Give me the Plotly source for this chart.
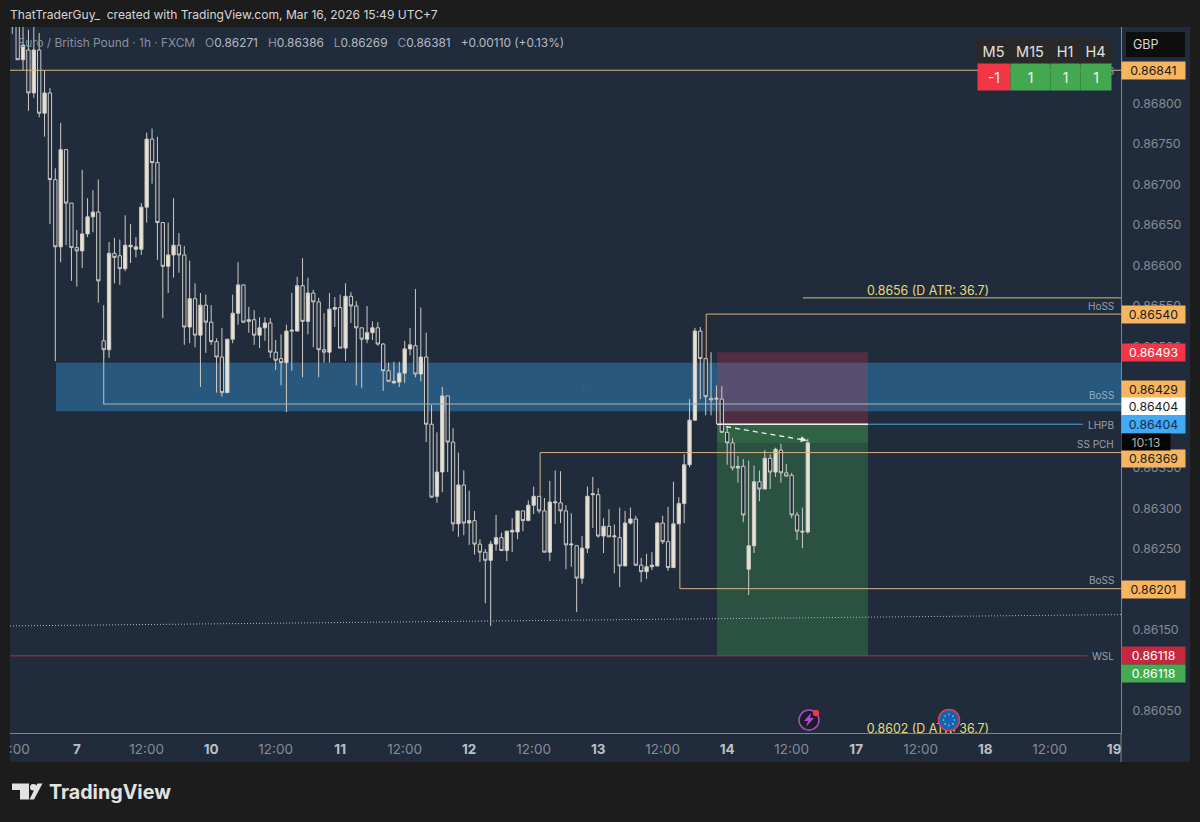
import math
import plotly.graph_objects as go

# Hourly OHLC, in 1e-5 price points
OPEN_PTS = [86909,86903,86854,86866,86813,86866,86788,86813,86706,86623,
86743,86677,86622,86618,86639,86660,86666,86507,86496,86615,
86612,86596,86623,86620,86620,86672,86756,86727,86653,86599,
86613,86625,86613,86524,86559,86514,86551,86530,86506,86487,
86443,86509,86541,86576,86531,86533,86514,86523,86529,86493,
86485,86480,86519,86519,86575,86531,86566,86555,86496,86493,
86546,86548,86498,86562,86550,86523,86509,86517,86523,86503,
86470,86455,86456,86467,86497,86501,86466,86487,86404,86315,
86345,86439,86382,86281,86329,86282,86285,86256,86246,86236,
86256,86264,86248,86271,86271,86297,86285,86304,86315,86297,
86246,86307,86307,86297,86255,86254,86214,86251,86317,86317,
86266,86278,86265,86264,86229,86282,86287,86230,86222,86228,
86229,86282,86259,86227,86281,86306,86354,86409,86519,86485,
86436,86435,86435,86394,86381,86350,86352,86225,86254,86333,
86324,86362,86345,86372,86344,86341,86292,86272,86271]
HIGH_PTS = [86922,86915,86915,86891,86903,86887,86841,86819,86720,86776,
86743,86677,86644,86718,86683,86693,86706,86551,86629,86634,
86632,86662,86651,86635,86677,86764,86769,86759,86653,86653,
86683,86640,86624,86606,86578,86566,86564,86551,86510,86523,
86509,86564,86604,86576,86549,86545,86536,86536,86535,86508,
86515,86527,86566,86586,86609,86585,86570,86560,86541,86566,
86561,86564,86578,86567,86556,86523,86550,86531,86530,86504,
86480,86481,86481,86507,86523,86571,86548,86517,86428,86394,
86450,86439,86399,86369,86347,86322,86297,86262,86250,86260,
86292,86270,86272,86288,86297,86297,86310,86327,86315,86313,
86334,86347,86346,86304,86294,86254,86266,86327,86339,86325,
86288,86299,86280,86301,86297,86301,86291,86239,86244,86246,
86283,86291,86302,86333,86314,86367,86435,86523,86524,86485,
86493,86452,86451,86401,86387,86365,86361,86359,86353,86347,
86372,86367,86375,86380,86355,86344,86296,86301,86386]
LOW_PTS = [86886,86854,86841,86791,86807,86783,86759,86651,86482,86604,
86625,86581,86574,86597,86635,86641,86554,86486,86486,86578,
86576,86593,86603,86610,86613,86653,86701,86607,86535,86566,
86585,86591,86502,86504,86499,86450,86492,86502,86443,86438,
86443,86504,86527,86529,86517,86502,86498,86507,86486,86471,
86452,86419,86470,86519,86462,86515,86499,86462,86480,86480,
86524,86498,86482,86529,86452,86449,86504,86508,86501,86445,
86457,86454,86450,86455,86489,86462,86457,86382,86313,86307,
86320,86345,86272,86265,86267,86255,86243,86234,86183,86155,
86248,86248,86235,86246,86262,86272,86285,86293,86294,86246,
86235,86281,86282,86225,86228,86172,86207,86245,86276,86264,
86245,86265,86220,86203,86229,86280,86229,86209,86213,86224,
86229,86256,86223,86227,86281,86282,86351,86409,86435,86415,
86415,86404,86394,86354,86347,86332,86283,86193,86245,86309,
86324,86324,86339,86332,86340,86288,86261,86251,86269]
CLOSE_PTS = [86903,86854,86872,86813,86866,86788,86813,86706,86623,86743,
86677,86622,86618,86639,86660,86666,86581,86496,86615,86610,
86596,86625,86625,86623,86672,86756,86727,86653,86599,86613,
86625,86613,86524,86559,86514,86551,86530,86506,86487,86443,
86509,86541,86576,86530,86533,86514,86523,86529,86493,86483,
86480,86519,86520,86575,86531,86566,86555,86496,86493,86546,
86548,86498,86562,86550,86523,86509,86517,86523,86503,86470,
86457,86457,86467,86497,86502,86466,86487,86404,86314,86345,
86439,86382,86281,86329,86282,86285,86256,86246,86236,86256,
86264,86248,86272,86273,86297,86285,86304,86315,86297,86246,
86308,86308,86297,86255,86256,86214,86251,86315,86318,86266,
86278,86265,86266,86229,86282,86287,86230,86222,86228,86230,
86282,86259,86227,86281,86306,86354,86409,86519,86485,86438,
86434,86436,86394,86381,86350,86352,86292,86254,86333,86324,
86362,86345,86373,86344,86340,86292,86272,86271,86381]

# Ticks that a price tag hides completely in the reference are left out
PRICE_TICKS = [0.8605,0.8615,0.8625,0.863,0.8635,0.865,0.8655,0.866,0.8665,0.867,0.8675,0.868]
DATE_TICK_BARS = [1.3,12,25,37,49,61,73,85,97,109,121,133,145,157,169,181,193,205]
DATE_TICK_LABELS = [":00","7","12:00","10","12:00","11","12:00","12","12:00","13","12:00","14","12:00","17","12:00","18","12:00","19"]
DAY_LABELS = {"7","10","11","12","13","14","17","18","19"}

# Levels
LVL_TOP = 0.86841; LVL_HOSS = 0.86540; LVL_BOSS_UP = 0.86429; LVL_ENTRY = 0.86404
LVL_PCH = 0.86369; LVL_BOSS_LOW = 0.86201; LVL_STOP = 0.86493; LVL_TARGET = 0.86118
LVL_ATR_UP = 0.8656; LVL_ATR_DOWN = 0.8602; LVL_CLOSE = 0.86381
ZONE_TOP = 0.86480; ZONE_BOTTOM = 0.86420
DOTTED_Y = [0.86155, 0.86169]
XMIN, XMAX = -0.43, 206.27
YMIN, YMAX = 0.860228, 0.868944

BG = "#1c1c1c"; PANEL = "#202b3c"; AXIS = "#7f858d"; TAN = "#d8b585"; GREY = "#9aa1aa"
FONT = "Inter"

def xp(px): return (px - 10) / 1111
def yp(py): return (733 - py) / 706
def bar(px): return (px - 12.3) / 5.375

bars = list(range(len(OPEN_PTS)))
fig = go.Figure()
fig.add_trace(go.Candlestick(
    x=bars,
    open=[v / 1e5 for v in OPEN_PTS], high=[v / 1e5 for v in HIGH_PTS],
    low=[v / 1e5 for v in LOW_PTS], close=[v / 1e5 for v in CLOSE_PTS],
    increasing=dict(line=dict(color="#cfccc4", width=1), fillcolor="#e9e2d6"),
    decreasing=dict(line=dict(color="#cfccc4", width=1), fillcolor=PANEL),
    whiskerwidth=0, hoverinfo="skip", showlegend=False))

def seg(xs, ys, color, width=1, dash="solid"):
    fig.add_trace(go.Scatter(x=xs, y=ys, mode="lines", line=dict(color=color, width=width, dash=dash),
                             hoverinfo="skip", showlegend=False))

seg([XMIN, XMAX], [LVL_TOP, LVL_TOP], TAN)
seg([17, 17, XMAX], [0.86496, LVL_BOSS_UP, LVL_BOSS_UP], "#a5b5ba", 1.2)
seg([129.1, 129.1, XMAX], [0.86485, LVL_HOSS, LVL_HOSS], TAN)
seg([98.2, 98.2, XMAX], [0.86315, LVL_PCH, LVL_PCH], TAN)
seg([124.2, 124.2, XMAX], [0.86281, LVL_BOSS_LOW, LVL_BOSS_LOW], TAN)
seg([XMIN, 200], [LVL_TARGET, LVL_TARGET], "#a8324a")
seg([147.1, XMAX], [LVL_ATR_UP, LVL_ATR_UP], "#c9c46c")
seg([131.1, 199.2], [LVL_ENTRY, LVL_ENTRY], "#4aa3e0")
seg([131.1, 159.2], [LVL_ENTRY, LVL_ENTRY], "#f0f0f0", 1.5)
seg([XMIN, XMAX], DOTTED_Y, "#b4bac0", 1, "1px,2px")
seg([132.8, 147.8], [0.86401, 0.86384], "#e8f0ea", 1.3, "5px,4px")

fig.add_trace(go.Scatter(
    x=[bar(928), bar(928)], y=[LVL_ATR_UP + 0.00007, LVL_ATR_DOWN + 0.00007], mode="text",
    text=["0.8656 (D ATR: 36.7)", "0.8602 (D ATR: 36.7)"],
    textfont=dict(family=FONT, size=12.4, color="#e6dc78"), textposition="middle center",
    hoverinfo="skip", showlegend=False))

shapes = []
def rect(x0, x1, y0, y1, color, layer="below"):
    shapes.append(dict(type="rect", xref="paper", yref="paper", x0=xp(x0), x1=xp(x1), y0=yp(y1), y1=yp(y0),
                       fillcolor=color, line=dict(width=0), layer=layer))
def poly(points, color, layer="above"):
    d = "M" + " L".join(f"{xp(a):.5f},{yp(b):.5f}" for a, b in points) + " Z"
    shapes.append(dict(type="path", xref="paper", yref="paper", path=d, fillcolor=color, line=dict(width=0), layer=layer))
def circle(cx, cy, r, fill, stroke=None, sw=1.5):
    shapes.append(dict(type="circle", xref="paper", yref="paper", x0=xp(cx - r), x1=xp(cx + r), y0=yp(cy + r), y1=yp(cy - r),
                       fillcolor=fill, line=dict(color=stroke or fill, width=sw if stroke else 0), layer="above"))

# panels around the plot
rect(1121, 1190, 27, 762, PANEL)
rect(10, 1121, 733, 762, PANEL)
# zones
shapes.append(dict(type="rect", xref="x", yref="y", x0=bar(56), x1=XMAX, y0=ZONE_BOTTOM, y1=ZONE_TOP,
                   fillcolor="#28587d", line=dict(width=0), layer="below"))
shapes.append(dict(type="rect", xref="x", yref="y", x0=131.1, x1=159.2, y0=LVL_ENTRY, y1=LVL_STOP,
                   fillcolor="rgba(225,50,70,0.25)", line=dict(width=0), layer="below"))
shapes.append(dict(type="rect", xref="x", yref="y", x0=131.1, x1=159.2, y0=LVL_TARGET, y1=LVL_ENTRY,
                   fillcolor="rgba(67,168,79,0.3)", line=dict(width=0), layer="below"))
shapes.append(dict(type="rect", xref="x", yref="y", x0=131.1, x1=159.2, y0=LVL_CLOSE, y1=LVL_ENTRY,
                   fillcolor="rgba(76,175,80,0.2)", line=dict(width=0), layer="below"))
# cover that trims the last date label, and the axis line running on
rect(1122, 1190, 734, 762, PANEL, "above")
rect(1120.5, 1121.5, 733, 762, AXIS, "above")
# GBP button
rect(1126, 1185, 32, 57, "#0e0e0e", "above")
# icons
circle(809, 720, 10, "#1d1a2c", "#a64fc4")
poly([(811, 713), (804, 721), (808, 721), (806, 727), (814, 718), (810, 718)], "#a64fc4")
circle(816, 713, 3.2, "#f23645")
circle(949, 720, 10.5, "#1463b0", "#e04050")
for k in range(8):
    a = k * math.pi / 4
    circle(949 + 5.5 * math.cos(a), 720 + 5.5 * math.sin(a), 0.8, "#9fd0ef")
# logo
poly([(12, 783.5), (29, 783.5), (29, 799.5), (20, 799.5), (20, 790), (12, 790)], "#e2e2e2")
circle(33.3, 787.3, 3.3, "#e2e2e2")
poly([(37.3, 783.5), (42.5, 783.5), (34, 799.5), (29.5, 799.5)], "#e2e2e2")

ann = []
def text(px, py, s, color=GREY, size=10, anchor="center", **kw):
    ann.append(dict(xref="paper", yref="paper", x=xp(px), y=yp(py), text=s, showarrow=False, xanchor=anchor, yanchor="middle",
                    font=dict(family=FONT, size=size, color=color), **kw))
def cell(x0, x1, y0, y1, s, bg, fg, size=12.3):
    ann.append(dict(xref="paper", yref="paper", x=xp((x0 + x1) / 2), y=yp((y0 + y1) / 2), text=s, showarrow=False,
                    xanchor="center", yanchor="middle", width=x1 - x0, height=y1 - y0, bgcolor=bg, borderpad=0,
                    font=dict(family=FONT, size=size, color=fg)))

# level labels
text(1116, 71, "HoSS", anchor="right")
text(1116, 306, "HoSS", anchor="right")
text(1116, 395, "BoSS", "#8fb0c4", anchor="right")
text(1116, 425, "LHPB", anchor="right")
text(1116, 444, "SS PCH", anchor="right")
text(1116, 580, "BoSS", anchor="right")
text(1116, 656, "WSL", anchor="right")
text(587, 386, "h1", "#31607f", 9)
# price tags
for cy, s, bg, fg in [(70, "0.86841", "#f7b55f", "#1c1c1c"), (314, "0.86540", "#f7b55f", "#1c1c1c"),
                      (352, "0.86493", "#f23645", "#ffffff"), (389, "0.86429", "#f7b55f", "#1c1c1c"),
                      (407, "0.86404", "#ffffff", "#1c1c1c"), (424, "0.86404", "#42a9f5", "#12304a"),
                      (459, "0.86369", "#f7b55f", "#1c1c1c"), (589, "0.86201", "#f7b55f", "#1c1c1c"),
                      (655, "0.86118", "#c4283f", "#ffffff"), (673, "0.86118", "#43ac50", "#ffffff")]:
    cell(1122, 1185, cy - 8.5, cy + 8.5, s, bg, fg)
cell(1122, 1170, 434, 450, "10:13", "#050505", "#b0b0b0")
# timeframe table
for x0, x1, h, v, bg in [(977, 1010, "M5", "-1", "#f23645"), (1010, 1050, "M15", "1", "#43a84f"),
                         (1050, 1080, "H1", "1", "#43a84f"), (1080, 1111, "H4", "1", "#43a84f")]:
    cell(x0, x1, 38, 64, h, "#292929", "#e0e0e0", 14.5)
    cell(x0 + 0.5, x1 - 0.5, 64, 90, v, bg, "#f2f2f2", 14)
text(1146, 44, "GBP", "#d8d8d8", 12.5)
# header texts
text(8, 15, "ThatTraderGuy_  created with TradingView.com, Mar 16, 2026 15:49 UTC+7", "#d6d6d6", 12.05, "left")
V = '<span style="color:#b6bbc2">%s</span>'
text(16, 43, "Euro / British Pound · 1h · FXCM  &nbsp;O" + V % "0.86271" + "  &nbsp;H" + V % "0.86386" + "  &nbsp;L" + V % "0.86269"
     + "  &nbsp;C" + V % "0.86381" + "  &nbsp;" + V % "+0.00110 (+0.13%)", "#8a919b", 11.86, "left")
text(47, 792, "<b>TradingView</b>", "#e2e2e2", 19.7, "left")
# arrow head
ann.append(dict(xref="x", yref="y", x=147.8, y=0.86384, ax=-9, ay=-2, text="", showarrow=True,
                arrowhead=2, arrowsize=1.2, arrowwidth=1, arrowcolor="#e8f0ea"))

def date_label(s):
    return f'<span style="color:#bcc0c6"><b>{s}</b></span>' if s in DAY_LABELS else s

fig.update_layout(
    width=1200, height=822, autosize=False, margin=dict(l=10, r=79, t=27, b=89, pad=0, autoexpand=False),
    paper_bgcolor=BG, plot_bgcolor=PANEL, showlegend=False, boxgap=0.12,
    font=dict(family=FONT, size=12, color="#858c96"),
    shapes=shapes, annotations=ann,
    xaxis=dict(range=[XMIN, XMAX], type="linear", rangeslider=dict(visible=False), showgrid=False, zeroline=False,
               automargin=False, showline=True, linecolor=AXIS, linewidth=1, tickmode="array", tickvals=DATE_TICK_BARS,
               ticktext=[date_label(s) for s in DATE_TICK_LABELS], ticks="", ticklabelstandoff=4,
               tickfont=dict(family=FONT, size=13.5, color="#858c96")),
    yaxis=dict(range=[YMIN, YMAX], side="right", showgrid=False, zeroline=False, automargin=False, showline=True, linecolor=AXIS,
               linewidth=1, tickmode="array", tickvals=PRICE_TICKS, ticktext=[f"{v:.5f}" for v in PRICE_TICKS], ticks="",
               ticklabelstandoff=8, tickfont=dict(family=FONT, size=12.3, color="#858c96")),
)
fig.write_html("out.html", config=dict(displayModeBar=False),
               post_script="document.body.style.margin='0';document.body.style.background='#1c1c1c';")
